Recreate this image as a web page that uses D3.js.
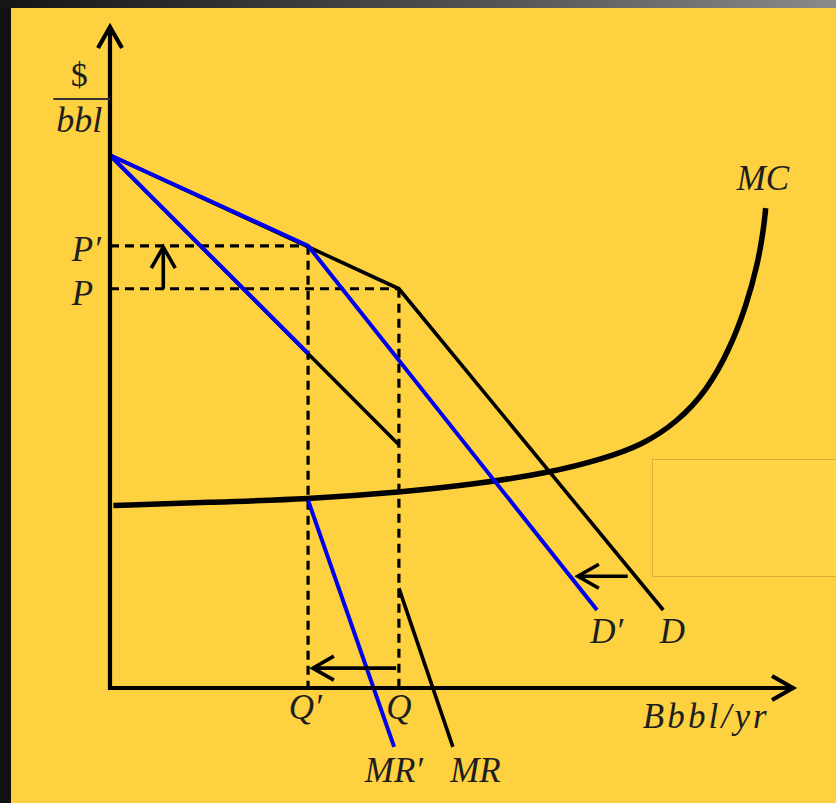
<!DOCTYPE html>
<html>
<head>
<meta charset="utf-8">
<script src="https://d3js.org/d3.v7.min.js"></script>
<style>
  body { margin: 0; background: #111; overflow: hidden; }
  text { font-family: "Liberation Serif", "Times New Roman", serif; fill: #1e1e1e; }
</style>
</head>
<body>
<div id="chart"></div>
<script>
// kinked demand model: quantity (q) on x, price (p) on y, both 0-100

// demand before (D) and after (D') the cut
var demandD  = [[0, 80.6], [42.3, 60.4], [81.0, 11.8]];
var demandD2 = [[0, 80.6], [29.0, 66.9], [71.3, 11.8]];

// marginal revenue, upper and lower pieces (gap at the kink)
var mrUpper  = [[0, 80.6], [42.3, 36.8]];
var mrLower  = [[42.3, 15.1], [50.2, -8.9]];
var mr2Upper = [[0, 80.6], [29.0, 50.6]];
var mr2Lower = [[29.0, 28.4], [41.6, -8.9]];

// marginal cost
var mcCurve = [[0.5, 27.6], [15, 28.1], [29, 28.6], [42.5, 29.6], [54, 30.9],
               [64.4, 32.6], [72, 34.6], [78, 36.8], [83, 40.2], [87.4, 45.0],
               [90.8, 51.4], [93.2, 58.0], [94.8, 64.0], [95.7, 69.4], [96.0, 72.6]];

// price and quantity levels (P, P', Q, Q')
var priceLevels    = [60.4, 66.9];
var quantityLevels = [42.3, 29.0];

// shift arrows: from -> to
var shiftArrows = [
  {from: [7.8, 60.4], to: [7.8, 66.7]},
  {from: [41.9, 3.0], to: [29.7, 3.0]},
  {from: [75.8, 16.9], to: [68.5, 16.9]}
];

// text labels
var labels = [
  {t: "MC",      q: 95.6, p: 75.3, a: "middle"},
  {t: "P\u2032", q: -5.6, p: 64.6, a: "start"},
  {t: "P",       q: -5.6, p: 58.0, a: "start"},
  {t: "Q\u2032", q: 28.6, p: -4.7, a: "middle"},
  {t: "Q",       q: 42.3, p: -4.7, a: "middle"},
  {t: "MR\u2032", q: 37.3, p: -14.2, a: "start"},
  {t: "MR",      q: 49.8, p: -14.2, a: "start"},
  {t: "D\u2032", q: 70.3, p: 6.8, a: "start"},
  {t: "D",       q: 80.5, p: 6.8, a: "start"}
];

var W = 836, H = 803;

var svg = d3.select("#chart")
  .append("svg")
    .attr("width", W)
    .attr("height", H);

// dark photo-ish backdrop
var grad = svg.append("defs").append("linearGradient")
    .attr("id", "bg").attr("x1", 0).attr("x2", 1).attr("y1", 0).attr("y2", 0);
grad.append("stop").attr("offset", "0").attr("stop-color", "#151515");
grad.append("stop").attr("offset", "0.6").attr("stop-color", "#555");
grad.append("stop").attr("offset", "1").attr("stop-color", "#8a8a8a");
svg.append("rect").attr("width", W).attr("height", H).attr("fill", "url(#bg)");
svg.append("rect").attr("x", 0).attr("y", 8).attr("width", 11).attr("height", H).attr("fill", "#111");

// yellow slide
svg.append("rect")
    .attr("x", 11).attr("y", 8)
    .attr("width", W - 11).attr("height", H - 8)
    .attr("fill", "#FED141");

// faint empty box
svg.append("rect")
    .attr("x", 652.5).attr("y", 459.5)
    .attr("width", 200).attr("height", 117)
    .attr("fill", "#FFD445")
    .attr("stroke", "#D9AE3A")
    .attr("stroke-width", 1);

// scales
var x = d3.scaleLinear().domain([0, 100]).range([110, 793]);
var y = d3.scaleLinear().domain([0, 100]).range([688, 27]);

var line = d3.line().x(d => x(d[0])).y(d => y(d[1]));

// dashed guides
priceLevels.forEach(function(p, i) {
  svg.append("line")
    .attr("x1", x(0)).attr("x2", x(quantityLevels[i]))
    .attr("y1", y(p)).attr("y2", y(p))
    .attr("stroke", "#000").attr("stroke-width", 3.2)
    .attr("stroke-dasharray", "9,6");
  svg.append("line")
    .attr("x1", x(quantityLevels[i])).attr("x2", x(quantityLevels[i]))
    .attr("y1", y(p)).attr("y2", y(0))
    .attr("stroke", "#000").attr("stroke-width", 3.2)
    .attr("stroke-dasharray", "9,6");
});

// MC curve
svg.append("path")
    .datum(mcCurve)
    .attr("d", d3.line().x(d => x(d[0])).y(d => y(d[1])).curve(d3.curveBasis))
    .attr("fill", "none")
    .attr("stroke", "#000")
    .attr("stroke-width", 5.5);

// black: original D and MR
[demandD, mrUpper, mrLower].forEach(function(s) {
  svg.append("path")
    .datum(s)
    .attr("d", line)
    .attr("fill", "none")
    .attr("stroke", "#000")
    .attr("stroke-width", 3.6)
    .attr("stroke-linejoin", "round");
});

// blue: new D' and MR'
[demandD2, mr2Upper, mr2Lower].forEach(function(s) {
  svg.append("path")
    .datum(s)
    .attr("d", line)
    .attr("fill", "none")
    .attr("stroke", "#0000F0")
    .attr("stroke-width", 4)
    .attr("stroke-linejoin", "round");
});

// open chevron arrow head at (tx,ty) pointing along angle (deg)
function head(tx, ty, angle, len, half) {
  var a = angle * Math.PI / 180;
  var ux = Math.cos(a), uy = Math.sin(a);
  var bx = tx - ux * len, by = ty - uy * len;
  return "M" + (bx - uy * half) + "," + (by + ux * half) +
         "L" + tx + "," + ty +
         "L" + (bx + uy * half) + "," + (by - ux * half);
}

// shift arrows
shiftArrows.forEach(function(s) {
  var x1 = x(s.from[0]), y1 = y(s.from[1]), x2 = x(s.to[0]), y2 = y(s.to[1]);
  var ang = Math.atan2(y2 - y1, x2 - x1) * 180 / Math.PI;
  svg.append("line")
    .attr("x1", x1).attr("y1", y1).attr("x2", x2).attr("y2", y2)
    .attr("stroke", "#000").attr("stroke-width", 3.6);
  svg.append("path")
    .attr("d", head(x2, y2, ang, 21, 12))
    .attr("fill", "none").attr("stroke", "#000").attr("stroke-width", 3.6);
});

// axes with arrow heads
svg.append("line")
    .attr("x1", x(0)).attr("x2", x(0)).attr("y1", y(0) + 2).attr("y2", y(100))
    .attr("stroke", "#000").attr("stroke-width", 4.2);
svg.append("path")
    .attr("d", head(x(0), y(100), -90, 21, 12))
    .attr("fill", "none").attr("stroke", "#000").attr("stroke-width", 4.2);
svg.append("line")
    .attr("x1", x(0) - 2).attr("x2", x(100)).attr("y1", y(0)).attr("y2", y(0))
    .attr("stroke", "#000").attr("stroke-width", 4.2);
svg.append("path")
    .attr("d", head(x(100), y(0), 0, 21, 12))
    .attr("fill", "none").attr("stroke", "#000").attr("stroke-width", 4.2);

// $/bbl fraction
svg.append("text")
    .attr("x", x(-4.5)).attr("y", y(91.1))
    .attr("text-anchor", "middle")
    .attr("font-size", 34)
    .text("$");
svg.append("line")
    .attr("x1", x(-8.3)).attr("x2", x(0)).attr("y1", y(89.1)).attr("y2", y(89.1))
    .attr("stroke", "#333").attr("stroke-width", 2);
svg.append("text")
    .attr("x", x(-4.5)).attr("y", y(84.1))
    .attr("text-anchor", "middle")
    .attr("font-size", 36)
    .attr("font-style", "italic")
    .text("bbl");

// x axis unit label
svg.append("text")
    .attr("x", x(78.0)).attr("y", y(-6.0))
    .attr("font-size", 35)
    .attr("font-style", "italic")
    .attr("textLength", 124)
    .attr("lengthAdjust", "spacing")
    .text("Bbbl/yr");

// curve labels
svg.selectAll(".lab")
  .data(labels)
  .enter()
  .append("text")
    .attr("class", "lab")
    .attr("x", d => x(d.q))
    .attr("y", d => y(d.p))
    .attr("text-anchor", d => d.a)
    .attr("font-size", 35)
    .attr("font-style", "italic")
    .text(d => d.t);
</script>
</body>
</html>
